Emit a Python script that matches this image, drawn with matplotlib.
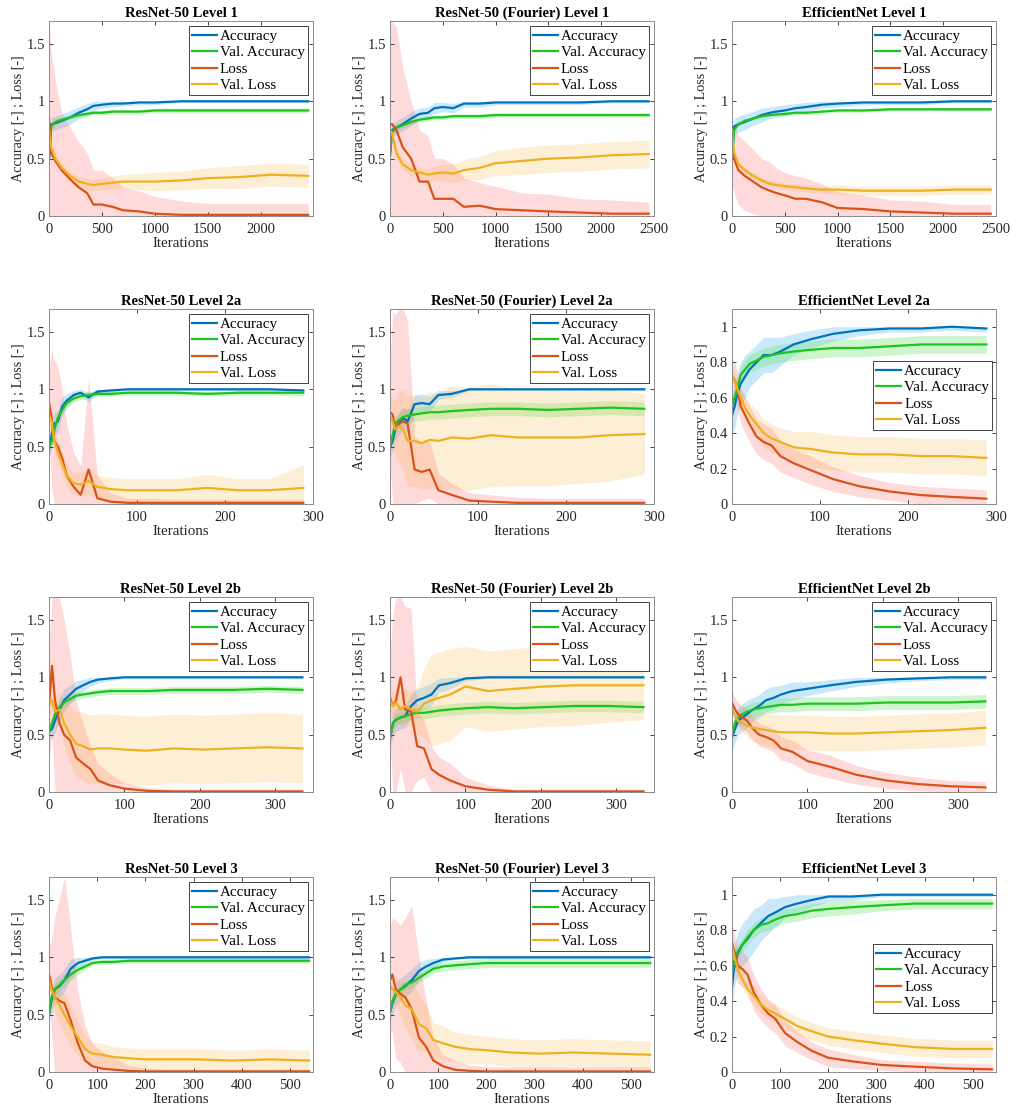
import numpy as np
import matplotlib.pyplot as plt
from matplotlib.ticker import FuncFormatter

plt.rcParams['font.family'] = ['Liberation Serif', 'DejaVu Serif']

# iteration knots per level
L1_x = [0, 20, 60, 120, 200, 280, 360, 420, 500, 600, 700, 850, 1000, 1250, 1500, 1800, 2100, 2450]
L2a_x = [0, 3, 6, 10, 15, 20, 28, 36, 45, 55, 70, 90, 115, 145, 180, 215, 250, 289]
L2b_x = [0, 4, 8, 14, 20, 28, 36, 45, 55, 65, 80, 100, 130, 165, 205, 245, 290, 336]
L3_x = [0, 5, 12, 22, 32, 45, 60, 75, 90, 110, 135, 165, 200, 250, 310, 380, 460, 540]

# ---- ResNet-50 Level 1
r50_l1_acc = [0.5, 0.8, 0.81, 0.83, 0.86, 0.9, 0.93, 0.96, 0.97, 0.98, 0.98, 0.99, 0.99, 1.0, 1.0, 1.0, 1.0, 1.0]
r50_l1_acc_sd = [0.05, 0.06, 0.06, 0.06, 0.06, 0.05, 0.05, 0.04, 0.03, 0.03, 0.02, 0.02, 0.02, 0.01, 0.01, 0.01, 0.01, 0.01]
r50_l1_vacc = [0.5, 0.78, 0.82, 0.84, 0.86, 0.88, 0.89, 0.9, 0.9, 0.91, 0.91, 0.91, 0.92, 0.92, 0.92, 0.92, 0.92, 0.92]
r50_l1_vacc_sd = [0.03, 0.03, 0.03, 0.02, 0.02, 0.02, 0.02, 0.02, 0.02, 0.02, 0.02, 0.02, 0.02, 0.02, 0.02, 0.02, 0.02, 0.02]
r50_l1_loss = [0.85, 0.55, 0.48, 0.4, 0.32, 0.25, 0.2, 0.1, 0.1, 0.08, 0.05, 0.04, 0.02, 0.01, 0.01, 0.01, 0.01, 0.01]
r50_l1_loss_sd = [0.9, 0.9, 0.7, 0.5, 0.45, 0.4, 0.35, 0.3, 0.3, 0.25, 0.2, 0.18, 0.15, 0.12, 0.1, 0.1, 0.1, 0.1]
r50_l1_vloss = [0.75, 0.6, 0.5, 0.42, 0.35, 0.3, 0.28, 0.27, 0.28, 0.29, 0.3, 0.3, 0.3, 0.31, 0.33, 0.34, 0.36, 0.35]
r50_l1_vloss_sd = [0.03, 0.04, 0.04, 0.04, 0.04, 0.04, 0.05, 0.05, 0.05, 0.06, 0.06, 0.07, 0.08, 0.08, 0.09, 0.1, 0.1, 0.1]

# ---- ResNet-50 (Fourier) Level 1
r4f_l1_acc = [0.52, 0.75, 0.77, 0.8, 0.85, 0.89, 0.9, 0.94, 0.95, 0.94, 0.98, 0.98, 0.99, 0.99, 0.99, 0.99, 1.0, 1.0]
r4f_l1_acc_sd = [0.05, 0.06, 0.06, 0.06, 0.06, 0.05, 0.05, 0.05, 0.04, 0.04, 0.03, 0.03, 0.02, 0.02, 0.02, 0.02, 0.01, 0.01]
r4f_l1_vacc = [0.55, 0.73, 0.77, 0.79, 0.82, 0.84, 0.85, 0.86, 0.86, 0.87, 0.87, 0.87, 0.88, 0.88, 0.88, 0.88, 0.88, 0.88]
r4f_l1_vacc_sd = [0.03, 0.03, 0.03, 0.02, 0.02, 0.02, 0.02, 0.02, 0.02, 0.02, 0.02, 0.02, 0.02, 0.02, 0.02, 0.02, 0.02, 0.02]
r4f_l1_loss = [0.8, 0.8, 0.75, 0.6, 0.5, 0.3, 0.3, 0.15, 0.15, 0.15, 0.08, 0.09, 0.06, 0.05, 0.04, 0.03, 0.02, 0.02]
r4f_l1_loss_sd = [0.9, 0.9, 0.9, 0.7, 0.5, 0.45, 0.4, 0.35, 0.35, 0.3, 0.25, 0.2, 0.2, 0.15, 0.15, 0.12, 0.12, 0.1]
r4f_l1_vloss = [0.75, 0.72, 0.55, 0.45, 0.4, 0.38, 0.36, 0.37, 0.38, 0.37, 0.4, 0.42, 0.46, 0.48, 0.5, 0.51, 0.53, 0.54]
r4f_l1_vloss_sd = [0.04, 0.05, 0.05, 0.05, 0.05, 0.05, 0.05, 0.06, 0.07, 0.08, 0.09, 0.1, 0.11, 0.12, 0.12, 0.12, 0.12, 0.12]

# ---- EfficientNet Level 1
eff_l1_acc = [0.5, 0.78, 0.8, 0.82, 0.85, 0.88, 0.9, 0.91, 0.92, 0.94, 0.95, 0.97, 0.98, 0.99, 0.99, 0.99, 1.0, 1.0]
eff_l1_acc_sd = [0.06, 0.07, 0.07, 0.07, 0.06, 0.06, 0.05, 0.05, 0.05, 0.04, 0.04, 0.03, 0.03, 0.02, 0.02, 0.02, 0.01, 0.01]
eff_l1_vacc = [0.5, 0.75, 0.8, 0.83, 0.85, 0.87, 0.88, 0.885, 0.89, 0.9, 0.9, 0.91, 0.92, 0.92, 0.93, 0.93, 0.93, 0.93]
eff_l1_vacc_sd = [0.015, 0.015, 0.015, 0.015, 0.015, 0.015, 0.015, 0.015, 0.015, 0.015, 0.015, 0.015, 0.015, 0.015, 0.015, 0.015, 0.015, 0.015]
eff_l1_loss = [0.58, 0.5, 0.4, 0.35, 0.3, 0.25, 0.22, 0.2, 0.18, 0.15, 0.15, 0.12, 0.07, 0.06, 0.04, 0.03, 0.02, 0.02]
eff_l1_loss_sd = [0.3, 0.3, 0.3, 0.3, 0.28, 0.25, 0.25, 0.22, 0.2, 0.2, 0.18, 0.16, 0.14, 0.12, 0.1, 0.1, 0.08, 0.08]
eff_l1_vloss = [0.75, 0.55, 0.45, 0.4, 0.35, 0.31, 0.28, 0.27, 0.26, 0.25, 0.24, 0.23, 0.23, 0.22, 0.22, 0.22, 0.23, 0.23]
eff_l1_vloss_sd = [0.03, 0.03, 0.03, 0.03, 0.03, 0.03, 0.03, 0.03, 0.03, 0.03, 0.03, 0.03, 0.04, 0.04, 0.04, 0.04, 0.04, 0.04]

# ---- ResNet-50 Level 2a
r50_l2a_acc = [0.48, 0.6, 0.7, 0.72, 0.85, 0.9, 0.95, 0.97, 0.93, 0.98, 0.99, 1.0, 1.0, 1.0, 1.0, 1.0, 1.0, 0.99]
r50_l2a_acc_sd = [0.1, 0.1, 0.1, 0.1, 0.08, 0.06, 0.04, 0.03, 0.04, 0.02, 0.02, 0.01, 0.01, 0.01, 0.01, 0.01, 0.01, 0.01]
r50_l2a_vacc = [0.5, 0.55, 0.65, 0.75, 0.82, 0.88, 0.92, 0.94, 0.95, 0.96, 0.96, 0.97, 0.97, 0.97, 0.96, 0.97, 0.97, 0.97]
r50_l2a_vacc_sd = [0.05, 0.06, 0.06, 0.05, 0.04, 0.04, 0.03, 0.03, 0.03, 0.02, 0.02, 0.02, 0.02, 0.02, 0.02, 0.02, 0.02, 0.03]
r50_l2a_loss = [0.88, 0.75, 0.55, 0.5, 0.4, 0.25, 0.15, 0.08, 0.3, 0.05, 0.02, 0.01, 0.01, 0.01, 0.01, 0.01, 0.01, 0.01]
r50_l2a_loss_sd = [0.3, 0.6, 0.7, 0.7, 0.6, 0.45, 0.3, 0.25, 0.8, 0.2, 0.08, 0.04, 0.04, 0.03, 0.03, 0.03, 0.03, 0.03]
r50_l2a_vloss = [0.78, 0.72, 0.55, 0.45, 0.35, 0.25, 0.18, 0.17, 0.2, 0.15, 0.13, 0.12, 0.12, 0.12, 0.14, 0.12, 0.12, 0.14]
r50_l2a_vloss_sd = [0.1, 0.1, 0.1, 0.1, 0.1, 0.1, 0.1, 0.1, 0.12, 0.1, 0.1, 0.1, 0.1, 0.1, 0.12, 0.1, 0.1, 0.2]

# ---- ResNet-50 (Fourier) Level 2a
r4f_l2a_acc = [0.5, 0.55, 0.65, 0.7, 0.75, 0.72, 0.87, 0.88, 0.87, 0.95, 0.96, 1.0, 1.0, 1.0, 1.0, 1.0, 1.0, 1.0]
r4f_l2a_acc_sd = [0.08, 0.1, 0.1, 0.1, 0.1, 0.1, 0.08, 0.08, 0.07, 0.04, 0.03, 0.01, 0.01, 0.01, 0.01, 0.01, 0.01, 0.01]
r4f_l2a_vacc = [0.5, 0.6, 0.7, 0.73, 0.76, 0.77, 0.78, 0.79, 0.8, 0.8, 0.81, 0.82, 0.83, 0.83, 0.82, 0.83, 0.84, 0.83]
r4f_l2a_vacc_sd = [0.05, 0.06, 0.06, 0.06, 0.06, 0.06, 0.06, 0.06, 0.06, 0.06, 0.06, 0.06, 0.06, 0.06, 0.06, 0.06, 0.06, 0.06]
r4f_l2a_loss = [0.8, 0.78, 0.65, 0.7, 0.72, 0.7, 0.3, 0.28, 0.3, 0.12, 0.08, 0.03, 0.02, 0.01, 0.01, 0.01, 0.01, 0.01]
r4f_l2a_loss_sd = [0.45, 0.9, 1.0, 1.0, 1.0, 0.9, 0.3, 0.25, 0.25, 0.15, 0.1, 0.07, 0.06, 0.05, 0.04, 0.04, 0.04, 0.04]
r4f_l2a_vloss = [0.78, 0.72, 0.65, 0.68, 0.65, 0.55, 0.55, 0.53, 0.56, 0.55, 0.58, 0.57, 0.6, 0.58, 0.58, 0.58, 0.6, 0.61]
r4f_l2a_vloss_sd = [0.15, 0.2, 0.25, 0.3, 0.35, 0.4, 0.4, 0.4, 0.42, 0.42, 0.45, 0.45, 0.45, 0.42, 0.42, 0.4, 0.4, 0.35]

# ---- EfficientNet Level 2a
eff_l2a_acc = [0.5, 0.55, 0.62, 0.68, 0.72, 0.76, 0.8, 0.84, 0.84, 0.86, 0.9, 0.93, 0.96, 0.98, 0.99, 0.99, 1.0, 0.99]
eff_l2a_acc_sd = [0.12, 0.12, 0.12, 0.12, 0.12, 0.1, 0.1, 0.1, 0.1, 0.08, 0.06, 0.05, 0.04, 0.03, 0.02, 0.02, 0.02, 0.02]
eff_l2a_vacc = [0.55, 0.6, 0.65, 0.73, 0.76, 0.79, 0.81, 0.83, 0.84, 0.85, 0.86, 0.87, 0.88, 0.88, 0.89, 0.9, 0.9, 0.9]
eff_l2a_vacc_sd = [0.05, 0.05, 0.05, 0.05, 0.05, 0.05, 0.05, 0.05, 0.05, 0.05, 0.05, 0.05, 0.05, 0.05, 0.05, 0.05, 0.05, 0.05]
eff_l2a_loss = [0.72, 0.7, 0.65, 0.55, 0.5, 0.45, 0.38, 0.35, 0.33, 0.27, 0.23, 0.19, 0.14, 0.1, 0.07, 0.05, 0.04, 0.03]
eff_l2a_loss_sd = [0.1, 0.1, 0.1, 0.1, 0.1, 0.1, 0.1, 0.1, 0.1, 0.09, 0.08, 0.08, 0.07, 0.06, 0.05, 0.05, 0.05, 0.05]
eff_l2a_vloss = [0.73, 0.7, 0.65, 0.6, 0.54, 0.5, 0.45, 0.4, 0.37, 0.35, 0.32, 0.31, 0.29, 0.28, 0.28, 0.27, 0.27, 0.26]
eff_l2a_vloss_sd = [0.05, 0.05, 0.05, 0.06, 0.06, 0.07, 0.08, 0.08, 0.08, 0.08, 0.09, 0.1, 0.1, 0.1, 0.1, 0.1, 0.1, 0.1]

# ---- ResNet-50 Level 2b
r50_l2b_acc = [0.53, 0.55, 0.62, 0.72, 0.8, 0.85, 0.9, 0.93, 0.96, 0.98, 0.99, 1.0, 1.0, 1.0, 1.0, 1.0, 1.0, 1.0]
r50_l2b_acc_sd = [0.06, 0.08, 0.1, 0.1, 0.1, 0.08, 0.07, 0.05, 0.04, 0.03, 0.02, 0.01, 0.01, 0.01, 0.01, 0.01, 0.01, 0.01]
r50_l2b_vacc = [0.53, 0.6, 0.68, 0.74, 0.78, 0.81, 0.84, 0.85, 0.86, 0.87, 0.88, 0.88, 0.88, 0.89, 0.89, 0.89, 0.9, 0.89]
r50_l2b_vacc_sd = [0.05, 0.05, 0.05, 0.04, 0.04, 0.03, 0.03, 0.03, 0.03, 0.03, 0.03, 0.03, 0.03, 0.03, 0.03, 0.03, 0.03, 0.03]
r50_l2b_loss = [0.75, 1.1, 0.8, 0.6, 0.5, 0.45, 0.3, 0.25, 0.2, 0.1, 0.06, 0.03, 0.01, 0.005, 0.005, 0.005, 0.005, 0.005]
r50_l2b_loss_sd = [0.5, 0.6, 0.9, 1.1, 1.0, 0.75, 0.5, 0.35, 0.2, 0.15, 0.1, 0.05, 0.03, 0.02, 0.02, 0.02, 0.02, 0.02]
r50_l2b_vloss = [0.78, 0.8, 0.7, 0.72, 0.6, 0.5, 0.42, 0.4, 0.37, 0.38, 0.38, 0.37, 0.36, 0.38, 0.37, 0.38, 0.39, 0.38]
r50_l2b_vloss_sd = [0.1, 0.1, 0.12, 0.15, 0.2, 0.25, 0.28, 0.3, 0.3, 0.3, 0.3, 0.3, 0.3, 0.3, 0.3, 0.3, 0.3, 0.3]

# ---- ResNet-50 (Fourier) Level 2b
r4f_l2b_acc = [0.47, 0.6, 0.63, 0.65, 0.66, 0.75, 0.8, 0.82, 0.85, 0.93, 0.95, 0.99, 1.0, 1.0, 1.0, 1.0, 1.0, 1.0]
r4f_l2b_acc_sd = [0.1, 0.1, 0.1, 0.1, 0.1, 0.1, 0.1, 0.1, 0.1, 0.06, 0.05, 0.02, 0.01, 0.01, 0.01, 0.01, 0.01, 0.01]
r4f_l2b_vacc = [0.47, 0.6, 0.63, 0.65, 0.66, 0.68, 0.69, 0.69, 0.7, 0.71, 0.72, 0.73, 0.74, 0.73, 0.74, 0.75, 0.75, 0.74]
r4f_l2b_vacc_sd = [0.04, 0.05, 0.05, 0.05, 0.05, 0.05, 0.05, 0.05, 0.05, 0.05, 0.05, 0.05, 0.05, 0.05, 0.05, 0.05, 0.05, 0.05]
r4f_l2b_loss = [0.82, 0.75, 0.8, 1.0, 0.72, 0.7, 0.4, 0.38, 0.2, 0.15, 0.1, 0.05, 0.02, 0.005, 0.005, 0.005, 0.005, 0.005]
r4f_l2b_loss_sd = [0.4, 0.8, 0.9, 0.8, 0.9, 0.9, 0.3, 0.25, 0.2, 0.15, 0.15, 0.08, 0.04, 0.02, 0.02, 0.02, 0.02, 0.02]
r4f_l2b_vloss = [0.8, 0.75, 0.78, 0.72, 0.75, 0.72, 0.7, 0.77, 0.8, 0.82, 0.85, 0.92, 0.88, 0.9, 0.92, 0.93, 0.93, 0.93]
r4f_l2b_vloss_sd = [0.1, 0.12, 0.15, 0.15, 0.15, 0.15, 0.2, 0.3, 0.4, 0.4, 0.4, 0.35, 0.35, 0.35, 0.35, 0.35, 0.32, 0.3]

# ---- EfficientNet Level 2b
eff_l2b_acc = [0.48, 0.55, 0.62, 0.65, 0.68, 0.72, 0.75, 0.8, 0.82, 0.85, 0.88, 0.9, 0.93, 0.96, 0.98, 0.99, 1.0, 1.0]
eff_l2b_acc_sd = [0.12, 0.12, 0.12, 0.12, 0.12, 0.1, 0.1, 0.1, 0.1, 0.08, 0.08, 0.06, 0.05, 0.04, 0.03, 0.02, 0.02, 0.02]
eff_l2b_vacc = [0.5, 0.6, 0.65, 0.68, 0.7, 0.72, 0.73, 0.74, 0.75, 0.76, 0.76, 0.77, 0.77, 0.77, 0.78, 0.78, 0.78, 0.79]
eff_l2b_vacc_sd = [0.06, 0.06, 0.06, 0.06, 0.06, 0.06, 0.06, 0.06, 0.06, 0.06, 0.06, 0.06, 0.06, 0.06, 0.06, 0.06, 0.06, 0.06]
eff_l2b_loss = [0.78, 0.72, 0.68, 0.65, 0.62, 0.55, 0.5, 0.48, 0.45, 0.38, 0.35, 0.27, 0.22, 0.15, 0.1, 0.07, 0.05, 0.04]
eff_l2b_loss_sd = [0.1, 0.1, 0.1, 0.1, 0.1, 0.1, 0.1, 0.1, 0.1, 0.1, 0.1, 0.1, 0.1, 0.08, 0.07, 0.06, 0.05, 0.05]
eff_l2b_vloss = [0.72, 0.67, 0.62, 0.6, 0.58, 0.56, 0.55, 0.54, 0.53, 0.52, 0.52, 0.52, 0.51, 0.51, 0.52, 0.53, 0.54, 0.56]
eff_l2b_vloss_sd = [0.05, 0.06, 0.07, 0.08, 0.1, 0.12, 0.13, 0.14, 0.15, 0.15, 0.15, 0.15, 0.15, 0.15, 0.15, 0.15, 0.15, 0.15]

# ---- ResNet-50 Level 3
r50_l3_acc = [0.5, 0.62, 0.72, 0.75, 0.8, 0.9, 0.95, 0.97, 0.99, 1.0, 1.0, 1.0, 1.0, 1.0, 1.0, 1.0, 1.0, 1.0]
r50_l3_acc_sd = [0.08, 0.1, 0.1, 0.1, 0.1, 0.08, 0.05, 0.03, 0.02, 0.01, 0.01, 0.01, 0.01, 0.01, 0.01, 0.01, 0.01, 0.01]
r50_l3_vacc = [0.5, 0.65, 0.72, 0.76, 0.8, 0.85, 0.89, 0.92, 0.95, 0.96, 0.96, 0.97, 0.97, 0.97, 0.97, 0.97, 0.97, 0.97]
r50_l3_vacc_sd = [0.04, 0.05, 0.05, 0.05, 0.05, 0.05, 0.04, 0.03, 0.02, 0.02, 0.02, 0.02, 0.02, 0.02, 0.02, 0.02, 0.02, 0.02]
r50_l3_loss = [0.85, 0.75, 0.65, 0.62, 0.6, 0.45, 0.25, 0.1, 0.05, 0.03, 0.02, 0.01, 0.005, 0.005, 0.005, 0.005, 0.005, 0.005]
r50_l3_loss_sd = [0.25, 0.4, 0.7, 0.9, 1.1, 0.8, 0.45, 0.3, 0.2, 0.15, 0.1, 0.05, 0.03, 0.02, 0.02, 0.02, 0.02, 0.02]
r50_l3_vloss = [0.8, 0.72, 0.65, 0.58, 0.5, 0.4, 0.3, 0.2, 0.16, 0.15, 0.13, 0.12, 0.11, 0.11, 0.11, 0.1, 0.11, 0.1]
r50_l3_vloss_sd = [0.1, 0.1, 0.12, 0.15, 0.18, 0.18, 0.15, 0.12, 0.1, 0.1, 0.09, 0.09, 0.09, 0.09, 0.09, 0.09, 0.09, 0.09]

# ---- ResNet-50 (Fourier) Level 3
r4f_l3_acc = [0.52, 0.6, 0.68, 0.72, 0.75, 0.8, 0.88, 0.92, 0.95, 0.98, 0.99, 1.0, 1.0, 1.0, 1.0, 1.0, 1.0, 1.0]
r4f_l3_acc_sd = [0.08, 0.1, 0.1, 0.1, 0.1, 0.1, 0.08, 0.06, 0.04, 0.02, 0.01, 0.01, 0.01, 0.01, 0.01, 0.01, 0.01, 0.01]
r4f_l3_vacc = [0.52, 0.62, 0.68, 0.72, 0.76, 0.78, 0.82, 0.86, 0.9, 0.92, 0.93, 0.94, 0.95, 0.95, 0.95, 0.95, 0.95, 0.95]
r4f_l3_vacc_sd = [0.04, 0.04, 0.04, 0.04, 0.04, 0.04, 0.04, 0.04, 0.04, 0.04, 0.04, 0.04, 0.04, 0.04, 0.04, 0.04, 0.04, 0.04]
r4f_l3_loss = [0.8, 0.85, 0.72, 0.68, 0.65, 0.55, 0.3, 0.22, 0.1, 0.05, 0.02, 0.01, 0.005, 0.005, 0.005, 0.005, 0.005, 0.005]
r4f_l3_loss_sd = [0.45, 0.5, 0.6, 0.6, 0.7, 0.9, 0.7, 0.4, 0.2, 0.1, 0.08, 0.05, 0.04, 0.04, 0.04, 0.04, 0.04, 0.04]
r4f_l3_vloss = [0.76, 0.72, 0.7, 0.65, 0.58, 0.55, 0.42, 0.38, 0.28, 0.25, 0.22, 0.2, 0.19, 0.17, 0.16, 0.17, 0.16, 0.15]
r4f_l3_vloss_sd = [0.08, 0.1, 0.12, 0.15, 0.2, 0.25, 0.25, 0.2, 0.15, 0.15, 0.13, 0.13, 0.12, 0.12, 0.12, 0.12, 0.12, 0.12]

# ---- EfficientNet Level 3
eff_l3_acc = [0.48, 0.6, 0.67, 0.72, 0.75, 0.8, 0.84, 0.88, 0.9, 0.93, 0.95, 0.97, 0.99, 0.99, 1.0, 1.0, 1.0, 1.0]
eff_l3_acc_sd = [0.12, 0.12, 0.12, 0.12, 0.12, 0.12, 0.1, 0.1, 0.08, 0.06, 0.05, 0.04, 0.03, 0.02, 0.01, 0.01, 0.01, 0.01]
eff_l3_vacc = [0.55, 0.63, 0.68, 0.72, 0.76, 0.8, 0.83, 0.84, 0.86, 0.88, 0.89, 0.91, 0.92, 0.93, 0.94, 0.95, 0.95, 0.95]
eff_l3_vacc_sd = [0.04, 0.04, 0.04, 0.04, 0.04, 0.04, 0.04, 0.04, 0.04, 0.04, 0.04, 0.04, 0.04, 0.04, 0.03, 0.03, 0.03, 0.03]
eff_l3_loss = [0.73, 0.68, 0.6, 0.58, 0.55, 0.45, 0.38, 0.33, 0.3, 0.22, 0.17, 0.12, 0.08, 0.06, 0.04, 0.03, 0.02, 0.015]
eff_l3_loss_sd = [0.1, 0.1, 0.1, 0.1, 0.1, 0.1, 0.09, 0.08, 0.08, 0.07, 0.06, 0.05, 0.05, 0.04, 0.03, 0.03, 0.03, 0.03]
eff_l3_vloss = [0.72, 0.65, 0.58, 0.52, 0.47, 0.43, 0.38, 0.35, 0.33, 0.3, 0.26, 0.23, 0.2, 0.18, 0.16, 0.14, 0.13, 0.13]
eff_l3_vloss_sd = [0.05, 0.05, 0.05, 0.05, 0.05, 0.05, 0.05, 0.05, 0.05, 0.05, 0.05, 0.05, 0.05, 0.05, 0.05, 0.05, 0.05, 0.05]

titles = [
    ["ResNet-50 Level 1", "ResNet-50 (Fourier) Level 1", "EfficientNet Level 1"],
    ["ResNet-50 Level 2a", "ResNet-50 (Fourier) Level 2a", "EfficientNet Level 2a"],
    ["ResNet-50 Level 2b", "ResNet-50 (Fourier) Level 2b", "EfficientNet Level 2b"],
    ["ResNet-50 Level 3", "ResNet-50 (Fourier) Level 3", "EfficientNet Level 3"],
]
labels = ["Accuracy", "Val. Accuracy", "Loss", "Val. Loss"]

colors = ["#0072BD", "#1EC31E", "#D95319", "#EDB120"]
band_colors = ["#4DB8F0", "#5BE35B", "#FF5A5A", "#F7B548"]
band_alpha = [0.3, 0.3, 0.22, 0.22]

rows = [
    (L1_x, [
        (r50_l1_acc, r50_l1_acc_sd, r50_l1_vacc, r50_l1_vacc_sd, r50_l1_loss, r50_l1_loss_sd, r50_l1_vloss, r50_l1_vloss_sd),
        (r4f_l1_acc, r4f_l1_acc_sd, r4f_l1_vacc, r4f_l1_vacc_sd, r4f_l1_loss, r4f_l1_loss_sd, r4f_l1_vloss, r4f_l1_vloss_sd),
        (eff_l1_acc, eff_l1_acc_sd, eff_l1_vacc, eff_l1_vacc_sd, eff_l1_loss, eff_l1_loss_sd, eff_l1_vloss, eff_l1_vloss_sd)]),
    (L2a_x, [
        (r50_l2a_acc, r50_l2a_acc_sd, r50_l2a_vacc, r50_l2a_vacc_sd, r50_l2a_loss, r50_l2a_loss_sd, r50_l2a_vloss, r50_l2a_vloss_sd),
        (r4f_l2a_acc, r4f_l2a_acc_sd, r4f_l2a_vacc, r4f_l2a_vacc_sd, r4f_l2a_loss, r4f_l2a_loss_sd, r4f_l2a_vloss, r4f_l2a_vloss_sd),
        (eff_l2a_acc, eff_l2a_acc_sd, eff_l2a_vacc, eff_l2a_vacc_sd, eff_l2a_loss, eff_l2a_loss_sd, eff_l2a_vloss, eff_l2a_vloss_sd)]),
    (L2b_x, [
        (r50_l2b_acc, r50_l2b_acc_sd, r50_l2b_vacc, r50_l2b_vacc_sd, r50_l2b_loss, r50_l2b_loss_sd, r50_l2b_vloss, r50_l2b_vloss_sd),
        (r4f_l2b_acc, r4f_l2b_acc_sd, r4f_l2b_vacc, r4f_l2b_vacc_sd, r4f_l2b_loss, r4f_l2b_loss_sd, r4f_l2b_vloss, r4f_l2b_vloss_sd),
        (eff_l2b_acc, eff_l2b_acc_sd, eff_l2b_vacc, eff_l2b_vacc_sd, eff_l2b_loss, eff_l2b_loss_sd, eff_l2b_vloss, eff_l2b_vloss_sd)]),
    (L3_x, [
        (r50_l3_acc, r50_l3_acc_sd, r50_l3_vacc, r50_l3_vacc_sd, r50_l3_loss, r50_l3_loss_sd, r50_l3_vloss, r50_l3_vloss_sd),
        (r4f_l3_acc, r4f_l3_acc_sd, r4f_l3_vacc, r4f_l3_vacc_sd, r4f_l3_loss, r4f_l3_loss_sd, r4f_l3_vloss, r4f_l3_vloss_sd),
        (eff_l3_acc, eff_l3_acc_sd, eff_l3_vacc, eff_l3_vacc_sd, eff_l3_loss, eff_l3_loss_sd, eff_l3_vloss, eff_l3_vloss_sd)]),
]

xlims = [[2495, 2500, 2500], [300, 300, 300], [350, 350, 350], [548, 548, 548]]

# axes boxes in pixels (left, top) ; size 264 x 195
W, H = 1016, 1119
col_left = [49, 390, 732]
row_top = [21, 309, 597, 877]
ax_w, ax_h = 264, 195

fig = plt.figure(figsize=(W / 100, H / 100), dpi=100)
fmt = FuncFormatter(lambda v, _: f"{v:g}")
axis_col = "#262626"

for r, (xs, panels) in enumerate(rows):
    x = np.array(xs)
    for c, data in enumerate(panels):
        ax = fig.add_axes([col_left[c] / W, 1 - (row_top[r] + ax_h) / H, ax_w / W, ax_h / H])
        small = (c == 2 and r in (1, 3))
        ytop = 1.1 if small else 1.7
        for k in range(4):
            m = np.array(data[2 * k])
            sd = np.array(data[2 * k + 1])
            cap = 1.0 if k < 2 else ytop
            lo = np.clip(m - sd, 0, cap)
            hi = np.clip(m + sd, 0, cap)
            ax.fill_between(x, lo, hi, color=band_colors[k], alpha=band_alpha[k], linewidth=0)
        for k in range(4):
            ax.plot(x, data[2 * k], color=colors[k], lw=1.6, label=labels[k])

        ax.set_ylim(0, ytop)
        if small:
            ax.set_yticks([0, 0.2, 0.4, 0.6, 0.8, 1.0])
        else:
            ax.set_yticks([0, 0.5, 1.0, 1.5])
        xl = xlims[r][c]
        ax.set_xlim(0, xl)
        if r == 0:
            ax.set_xticks([0, 500, 1000, 1500, 2000, 2500] if xl >= 2500 else [0, 500, 1000, 1500, 2000])
        elif r == 3:
            ax.set_xticks([0, 100, 200, 300, 400, 500])
        else:
            ax.set_xticks([0, 100, 200, 300])
        ax.xaxis.set_major_formatter(fmt)
        ax.yaxis.set_major_formatter(fmt)
        ax.tick_params(direction="in", length=3, width=0.6, top=True, right=True,
                       labelsize=10.5, colors=axis_col)
        ax.tick_params(axis="x", pad=5)
        ax.tick_params(axis="y", pad=3)
        for sp in ax.spines.values():
            sp.set_color("#8c8c8c")
            sp.set_linewidth(0.7)
        ax.set_title(titles[r][c], fontsize=10.5, fontweight="bold", pad=3)
        ax.set_xlabel("Iterations", fontsize=10.8, color=axis_col, labelpad=1)
        ax.set_ylabel("Accuracy [-] ; Loss [-]", fontsize=10.2, color=axis_col, labelpad=1)

        legkw = dict(fontsize=10.8, handlelength=1.65, handletextpad=0.2, borderpad=0.2,
                     labelspacing=0.2, fancybox=False, framealpha=1)
        if small:
            anchor_y = 0.554 if r == 1 else 0.477
            leg = ax.legend(loc="center right", bbox_to_anchor=(0.985, anchor_y), borderaxespad=0, **legkw)
        else:
            leg = ax.legend(loc="upper right", borderaxespad=0.35, **legkw)
        leg.get_frame().set_edgecolor("#262626")
        leg.get_frame().set_linewidth(0.6)

fig.savefig("out.png", dpi=100)
